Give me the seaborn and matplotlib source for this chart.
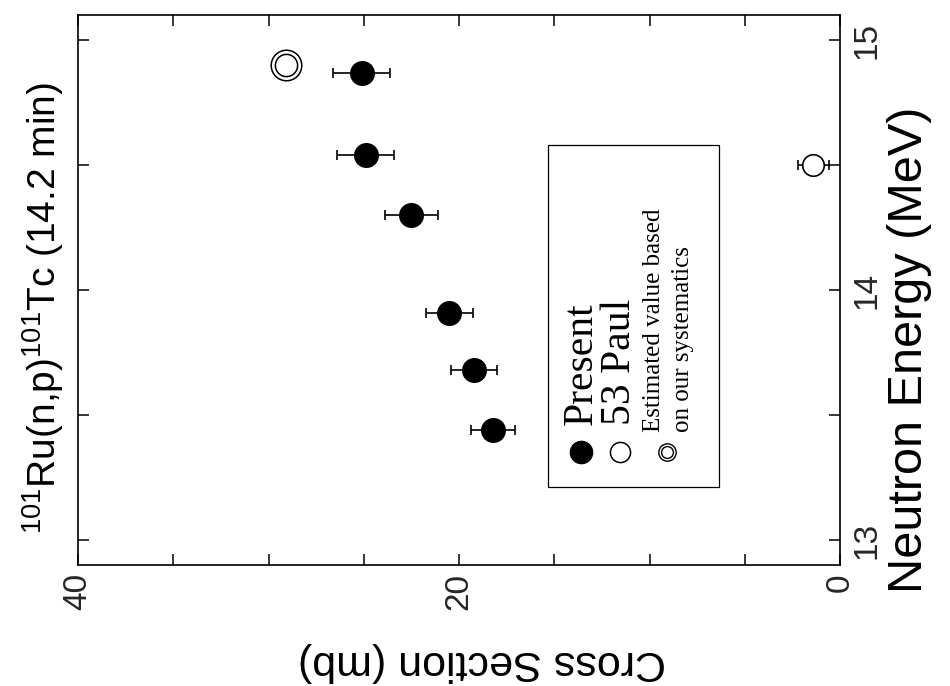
import matplotlib
matplotlib.use("Agg")
import matplotlib.pyplot as plt
import numpy as np
import pandas as pd
import seaborn as sns
from matplotlib.patches import Rectangle
from matplotlib.ticker import FixedLocator, MultipleLocator

# Present measurement: neutron energy (MeV), cross section (mb), uncertainty (mb)
energy_present = [13.44, 13.68, 13.91, 14.30, 14.54, 14.87]
xs_present = [18.2, 19.2, 20.5, 22.5, 24.9, 25.1]
err_present = [1.15, 1.2, 1.25, 1.4, 1.5, 1.5]

# Paul (1953)
energy_paul = [14.5]
xs_paul = [1.4]
err_paul = [0.8]

# Estimate from systematics
energy_est = [14.9]
xs_est = [29.1]

xs_ticks = [0, 20, 40]
energy_ticks = [13, 14, 15]
legend_labels = ["Present", "53 Paul", "Estimated value based", "on our systematics"]

sns.set_theme(style="ticks")
plt.rcParams["font.family"] = ["Liberation Sans", "DejaVu Sans"]
plt.rcParams["mathtext.fontset"] = "custom"
plt.rcParams["mathtext.rm"] = "Liberation Sans"
plt.rcParams["mathtext.it"] = "Liberation Sans:italic"
plt.rcParams["mathtext.bf"] = "Liberation Sans:bold"

W, H = 950, 686
fig = plt.figure(figsize=(W / 100, H / 100), dpi=100)
fig.patch.set_facecolor("white")

# page is turned: cross section runs right-to-left along x, energy runs up along y
AX_L, AX_R, AX_T, AX_B = 78, 840, 15, 565
ax = fig.add_axes([AX_L / W, 1 - AX_B / H, (AX_R - AX_L) / W, (AX_B - AX_T) / H])
ax.set_facecolor("white")


def afrac(x, y):
    return (x - AX_L) / (AX_R - AX_L), (AX_B - y) / (AX_B - AX_T)


df_present = pd.DataFrame({"xs": xs_present, "energy": energy_present, "err": err_present})
df_paul = pd.DataFrame({"xs": xs_paul, "energy": energy_paul, "err": err_paul})
df_est = pd.DataFrame({"xs": xs_est, "energy": energy_est})

ax.errorbar(df_present["xs"], df_present["energy"], xerr=df_present["err"], fmt="none",
            ecolor="black", elinewidth=1.2, capsize=3.6, capthick=1.2, zorder=2)
sns.scatterplot(data=df_present, x="xs", y="energy", ax=ax, s=18 ** 2, marker="o",
                color="black", edgecolor="black", linewidth=0, zorder=3, legend=False)

ax.errorbar(df_paul["xs"], df_paul["energy"], xerr=df_paul["err"], fmt="none",
            ecolor="black", elinewidth=1.2, capsize=3.6, capthick=1.2, zorder=2)
sns.scatterplot(data=df_paul, x="xs", y="energy", ax=ax, s=15.5 ** 2, marker="o",
                facecolor="white", edgecolor="black", linewidth=1.2, zorder=3, legend=False)

# double ring for the estimated value
sns.scatterplot(data=df_est, x="xs", y="energy", ax=ax, s=22 ** 2, marker="o",
                facecolor="white", edgecolor="black", linewidth=1.1, zorder=3, legend=False)
sns.scatterplot(data=df_est, x="xs", y="energy", ax=ax, s=16 ** 2, marker="o",
                facecolor="white", edgecolor="black", linewidth=1.1, zorder=4, legend=False)

ax.set_xlim(40, 0)
ax.set_ylim(12.9, 15.1)
ax.xaxis.set_major_locator(FixedLocator(xs_ticks))
ax.xaxis.set_minor_locator(MultipleLocator(5))
ax.yaxis.set_major_locator(FixedLocator(energy_ticks))
ax.yaxis.set_minor_locator(MultipleLocator(0.5))
ax.set_xticklabels([str(t) for t in xs_ticks])
ax.set_yticklabels([str(t) for t in energy_ticks])
ax.tick_params(which="both", direction="in", top=True, bottom=True, left=True, right=True,
               labelleft=False, labelright=True, labelbottom=True, labeltop=False,
               length=8, width=1.1, color="black")
ax.tick_params(axis="x", which="major", labelsize=24, labelrotation=90, pad=6)
ax.tick_params(axis="y", which="major", labelsize=24, labelrotation=90, pad=8)
for lab in ax.get_yticklabels():
    lab.set_va("center")
    lab.set_ha("left")
for sp in ax.spines.values():
    sp.set_linewidth(1.2)
    sp.set_color("black")
ax.set_xlabel("")
ax.set_ylabel("")

# axis titles and heading, turned with the page
fig.text(482 / W, 1 - 662 / H, "Cross Section (mb)", rotation=180, fontsize=31,
         ha="center", va="center", color="black")
fig.text(910 / W, 1 - 350 / H, "Neutron Energy (MeV)", rotation=90, fontsize=35,
         ha="center", va="center", color="black")
fig.text(43 / W, 1 - 308 / H, r"$^{101}$Ru(n,p)$^{101}$Tc (14.2 min)", rotation=90,
         fontsize=28, ha="center", va="center", color="black")

# key box
x0, y1 = afrac(548, 487)
x1, y0 = afrac(719, 145)
ax.add_patch(Rectangle((x0, y1), x1 - x0, y0 - y1, transform=ax.transAxes,
                       facecolor="white", edgecolor="black", linewidth=0.9, zorder=5))

mx, my = afrac(581, 452)
ax.plot([mx], [my], marker="o", ms=16, mfc="black", mec="black", transform=ax.transAxes,
        clip_on=False, zorder=6)
mx, my = afrac(620, 452)
ax.plot([mx], [my], marker="o", ms=14.5, mfc="white", mec="black", mew=1.1,
        transform=ax.transAxes, clip_on=False, zorder=6)
mx, my = afrac(667, 452)
ax.plot([mx], [my], marker="o", ms=12.5, mfc="white", mec="black", mew=1.0,
        transform=ax.transAxes, clip_on=False, zorder=6)
ax.plot([mx], [my], marker="o", ms=8.5, mfc="white", mec="black", mew=1.0,
        transform=ax.transAxes, clip_on=False, zorder=7)

serif = ["Liberation Serif", "DejaVu Serif"]
for text, (tx, ty), size in zip(
        legend_labels,
        [(592, 425), (630, 425), (660, 432), (689, 432)],
        [30, 30, 18, 18]):
    fx, fy = afrac(tx, ty)
    ax.text(fx, fy, text, transform=ax.transAxes, rotation=90, rotation_mode="anchor",
            ha="left", va="baseline", fontsize=size, family=serif, color="black", zorder=8)

fig.savefig("out.png", dpi=100, facecolor="white")
